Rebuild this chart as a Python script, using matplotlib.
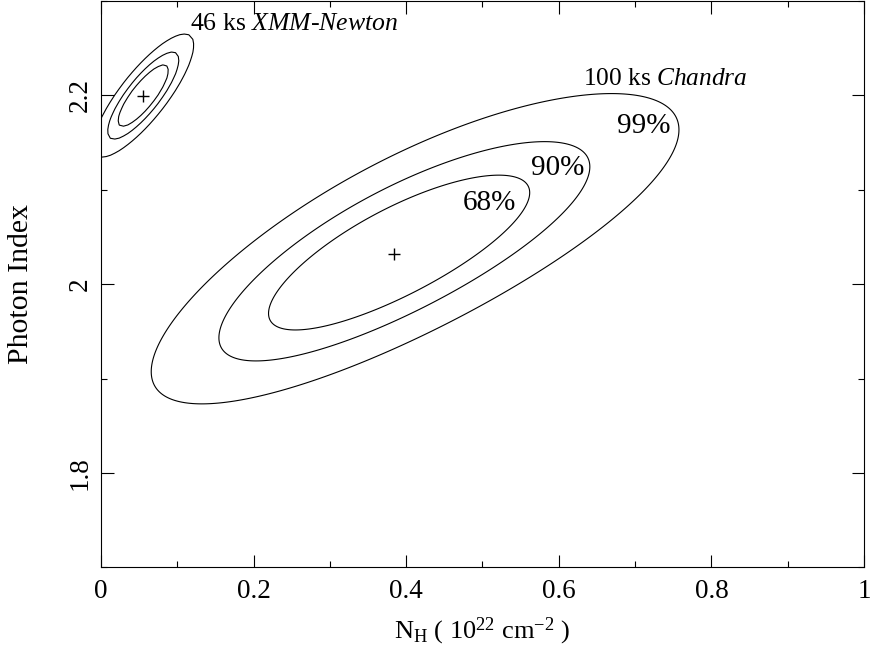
import numpy as np
import matplotlib
matplotlib.use("Agg")
import matplotlib.pyplot as plt
from matplotlib.ticker import MultipleLocator

plt.rcParams['font.family'] = ['Liberation Serif', 'DejaVu Serif']
plt.rcParams['mathtext.fontset'] = 'custom'
plt.rcParams['mathtext.rm'] = 'Liberation Serif'
plt.rcParams['mathtext.it'] = 'Liberation Serif:italic'

# best fits and errors
chandra_best = [0.384, 2.032]       # NH, photon index
chandra_sigma = [0.1125, 0.054]
chandra_rho = 0.78
chandra_skew = [0.23, 0.20]         # banana shape of the big contours

xmm_best = [0.0554, 2.1995]
xmm_sigma = [0.0218, 0.0215]
xmm_rho = 0.82

# delta chi^2 for 68, 90, 99 % (2 parameters)
levels = [2.30, 4.61, 9.21]
level_names = ['68%', '90%', '99%']
level_pos = [(0.5085, 2.086), (0.599, 2.123), (0.7117, 2.167)]


def delta_chi2(x, y, best, sigma, rho, skew=(0.0, 0.0)):
    dx = x - best[0]
    dy = y - best[1]
    dx = dx - skew[0] * dx**2
    dy = dy - skew[1] * dy**2
    u = dx / sigma[0]
    v = dy / sigma[1]
    return (u**2 - 2 * rho * u * v + v**2) / (1 - rho**2)


fig = plt.figure(figsize=(8.72, 6.53), dpi=100)
ax = fig.add_axes([0.1158, 0.131, 0.875, 0.868])

# Chandra
gx, gy = np.meshgrid(np.linspace(0, 1, 500), np.linspace(1.7, 2.3, 500))
z = delta_chi2(gx, gy, chandra_best, chandra_sigma, chandra_rho, chandra_skew)
ax.contour(gx, gy, z, levels=levels, colors='black', linewidths=0.8)
ax.plot(chandra_best[0], chandra_best[1], '+', color='black', ms=9, mew=1)

# XMM-Newton (coarser grid, the small contours look a bit polygonal)
hx, hy = np.meshgrid(np.linspace(-0.05, 0.2, 45), np.linspace(2.1, 2.3, 45))
z2 = delta_chi2(hx, hy, xmm_best, xmm_sigma, xmm_rho)
ax.contour(hx, hy, z2, levels=levels, colors='black', linewidths=0.8)
ax.plot(xmm_best[0], xmm_best[1], '+', color='black', ms=9, mew=1)

for name, (px, py) in zip(level_names, level_pos):
    ax.text(px, py, name, fontsize=21, ha='center', va='center')

ax.text(0.1166, 2.2757, r'46 ks $\mathit{XMM}$-$\mathit{Newton}$', fontsize=18.5,
        ha='left', va='center')
ax.text(0.6317, 2.2169, r'100 ks $\mathit{Chandra}$', fontsize=18.3,
        ha='left', va='center')

ax.set_xlim(0, 1)
ax.set_ylim(1.7, 2.3)
ax.xaxis.set_major_locator(MultipleLocator(0.2))
ax.xaxis.set_minor_locator(MultipleLocator(0.1))
ax.yaxis.set_major_locator(MultipleLocator(0.2))
ax.yaxis.set_minor_locator(MultipleLocator(0.1))
ax.set_xticks([0, 0.2, 0.4, 0.6, 0.8, 1.0])
ax.set_xticklabels(['0', '0.2', '0.4', '0.6', '0.8', '1'])
ax.set_yticks([1.8, 2.0, 2.2])
ax.set_yticklabels(['1.8', '2', '2.2'])
ax.tick_params(which='both', direction='in', top=True, right=True, width=0.8)
ax.tick_params(which='major', length=9, labelsize=19.5, pad=8)
ax.tick_params(which='minor', length=4.5)
ax.tick_params(axis='y', labelrotation=90, pad=6)
for lab in ax.get_yticklabels():
    lab.set_va('center')
for sp in ax.spines.values():
    sp.set_linewidth(0.8)

ax.set_xlabel(r'N$_{\rm H}$ ( 10$^{22}$ cm$^{-2}$ )', fontsize=19, labelpad=9)
ax.set_ylabel('Photon Index', fontsize=21.5, labelpad=24)

fig.savefig('out.png', dpi=100)
